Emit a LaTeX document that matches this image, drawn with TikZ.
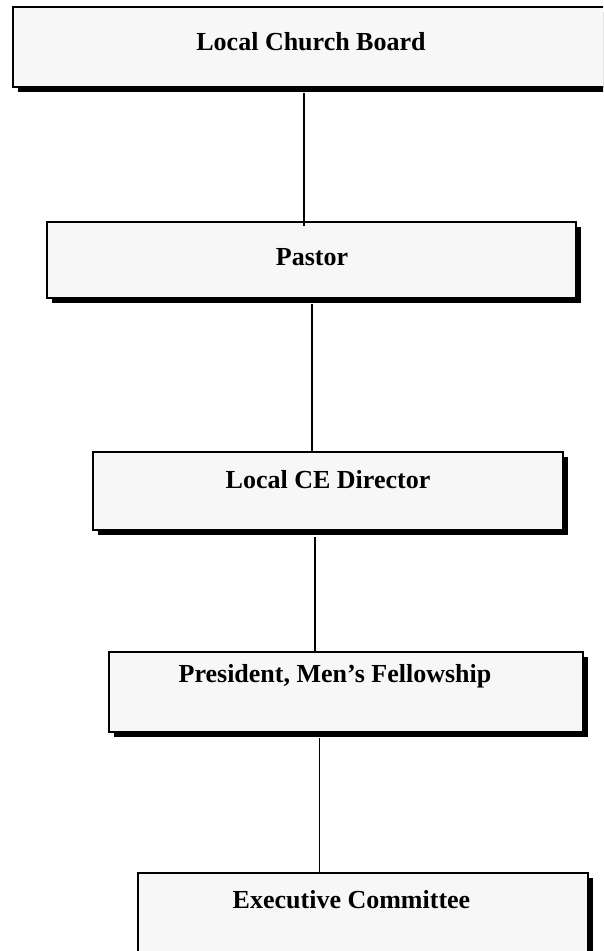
\documentclass[tikz,border=0pt]{standalone}
\usepackage{fontspec}
\setmainfont{Liberation Serif}
\begin{document}
\begin{tikzpicture}[x=1pt,y=-1pt,
  orgbox/.style={draw=black,line width=2pt,fill=boxgray,inner sep=0pt},
  shade/.style={fill=black,draw=none},
  label/.style={font=\fontsize{26}{30}\selectfont\bfseries,anchor=base,inner sep=0pt},
  link/.style={draw=black,line width=1.2pt}]
\definecolor{boxgray}{HTML}{F7F7F7}
\useasboundingbox (0,0) rectangle (603,951);
\clip (0,0) rectangle (603,951);

% box outlines: corners (left,top) and (right,bottom)
\coordinate (b1nw) at (13,7);    \coordinate (b1se) at (640,87);
\coordinate (b2nw) at (47,222);  \coordinate (b2se) at (576,298);
\coordinate (b3nw) at (93,452);  \coordinate (b3se) at (563,530);
\coordinate (b4nw) at (109,652); \coordinate (b4se) at (583,732);
\coordinate (b5nw) at (138,873); \coordinate (b5se) at (588,990);

% connectors, drawn first so the boxes sit on top
\coordinate (c1a) at (304,93);  \coordinate (c1b) at (304,226);
\coordinate (c2a) at (312,304); \coordinate (c2b) at (312,452);
\coordinate (c3a) at (315,537); \coordinate (c3b) at (315,652);
\coordinate (c4a) at (319.5,738); \coordinate (c4b) at (319.5,873);

% drop shadows and boxes
\foreach \b in {b1,b2,b3,b4,b5}{
  \fill[shade] ([shift={(5,5)}]\b nw) rectangle ([shift={(5,5)}]\b se);
  \draw[orgbox] (\b nw) rectangle (\b se);
}

\draw[link] (c1a) -- (c1b);
\draw[link] (c2a) -- (c2b);
\draw[link] (c3a) -- (c3b);
\draw[link] (c4a) -- (c4b);

% titles
\node[label] (t1) at (311,50)  {Local Church Board};
\node[label] (t2) at (312,265) {Pastor};
\node[label] (t3) at (328,488) {Local CE Director};
\node[label] (t4) at (335,682) {President, Men’s Fellowship};
\node[label] (t5) at (351.5,908) {Executive Committee};
\end{tikzpicture}
\end{document}
